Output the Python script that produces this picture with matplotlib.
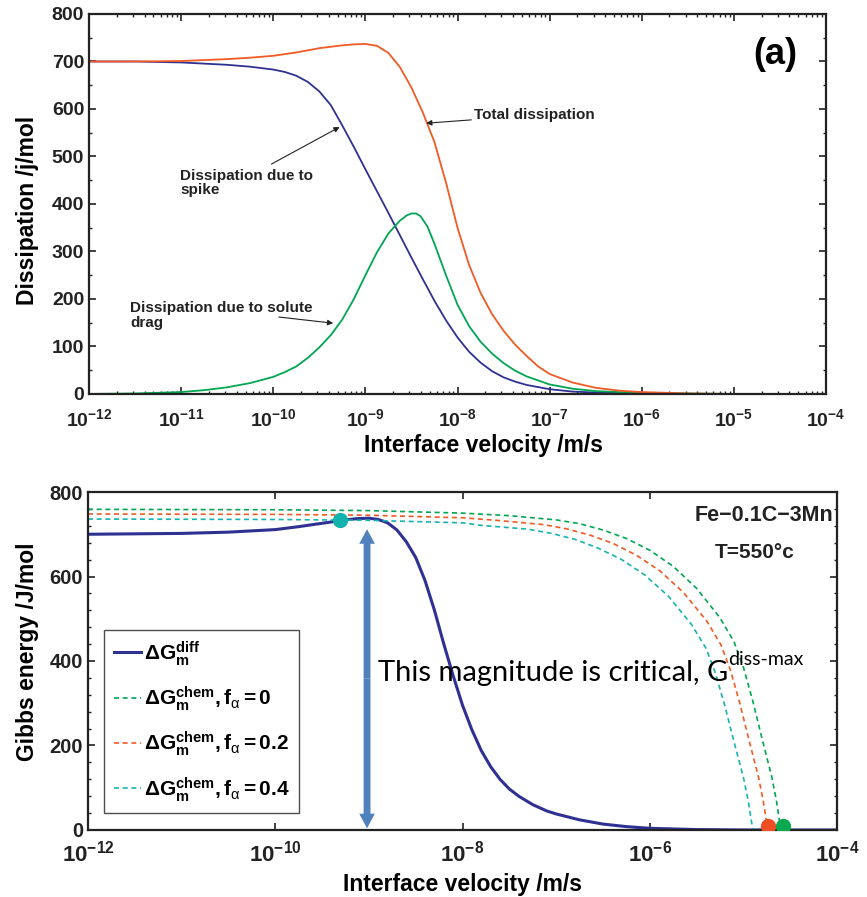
import matplotlib
matplotlib.use('Agg')
import matplotlib.pyplot as plt
from matplotlib.ticker import MultipleLocator, FixedLocator, NullLocator, LogLocator
import numpy as np

plt.rcParams['font.family'] = ['Liberation Sans', 'DejaVu Sans']
plt.rcParams['mathtext.fontset'] = 'custom'
plt.rcParams['mathtext.rm'] = 'Liberation Sans:bold'
plt.rcParams['mathtext.bf'] = 'Liberation Sans:bold'
plt.rcParams['mathtext.it'] = 'Liberation Sans'

# ---- panel (a): dissipation vs interface velocity (log10 of v) ----
exp_spike = [-12, -11.5, -11, -10.5, -10.25, -10, -9.875, -9.75, -9.625, -9.5, -9.375,
             -9.25, -9.125, -9, -8.875, -8.75, -8.625, -8.5, -8.375, -8.25, -8.125,
             -8, -7.875, -7.75, -7.625, -7.5, -7.375, -7.25, -7, -6.75, -6.5, -6,
             -5.5, -4]
diss_spike = [700, 700, 698, 693, 689, 683, 678, 670, 657, 637, 608,
              565, 520, 473, 427, 381, 334, 287, 241, 196, 155,
              119, 89, 66, 48, 35, 26, 19, 10, 5, 3, 1,
              0, 0]

exp_solute = [-12, -11.5, -11, -10.75, -10.5, -10.25, -10, -9.875, -9.75, -9.625, -9.5,
              -9.375, -9.25, -9.125, -9, -8.875, -8.75, -8.625, -8.55, -8.5, -8.45,
              -8.4, -8.325, -8.25, -8.125, -8, -7.875, -7.75, -7.625, -7.5, -7.375,
              -7.25, -7, -6.75, -6.5, -6, -5.5, -5, -4]
diss_solute = [0, 1, 4, 8, 14, 23, 36, 46, 58, 76, 98,
               124, 157, 200, 250, 298, 338, 365, 376, 380, 380,
               374, 352, 316, 250, 188, 143, 110, 85, 65, 49,
               37, 20, 11, 6, 2, 1, 0, 0]

exp_total = [-12, -11.5, -11, -10.5, -10.25, -10, -9.75, -9.5, -9.25, -9.125, -9,
             -8.875, -8.75, -8.625, -8.5, -8.375, -8.25, -8.125, -8, -7.875, -7.75,
             -7.625, -7.5, -7.375, -7.25, -7.125, -7, -6.75, -6.5, -6.25, -6,
             -5.5, -5, -4]
diss_total = [700, 700, 701, 705, 708, 712, 719, 728, 734, 736, 737,
              733, 718, 688, 645, 592, 530, 445, 350, 272, 213,
              168, 133, 104, 80, 58, 42, 24, 13, 7, 4,
              1, 0, 0]

# ---- panel (b): Gibbs energy curves ----
exp_diff = [-12, -11, -10.5, -10, -9.75, -9.5, -9.25, -9.125, -9, -8.9, -8.8, -8.7,
            -8.6, -8.5, -8.4, -8.3, -8.2, -8.1, -8, -7.9, -7.8, -7.7, -7.6, -7.5,
            -7.4, -7.25, -7.1, -7, -6.75, -6.5, -6.25, -6, -5.5, -5, -4]
g_diff = [700, 702, 705, 711, 718, 726, 734, 737, 738, 735, 727, 710,
          682, 645, 590, 520, 440, 365, 295, 237, 188, 150, 120, 97,
          80, 60, 45, 38, 24, 14, 8, 4, 1, 0, 0]

exp_f0 = [-12, -10, -9, -8, -7.5, -7, -6.75, -6.5, -6.25, -6, -5.75, -5.5, -5.25,
          -5.1, -5.0, -4.9, -4.8, -4.7, -4.65, -4.6]
g_f0 = [759, 758, 756, 750, 744, 734, 725, 710, 690, 662, 624, 572, 502,
        445, 385, 305, 215, 128, 72, 0]
exp_f02 = [-12, -10, -9, -8, -7.64, -7.14, -6.89, -6.64, -6.39, -6.14, -5.89, -5.64,
           -5.39, -5.24, -5.14, -5.04, -4.94, -4.84, -4.79, -4.74]
g_f02 = [748, 747, 745, 739, 733, 723, 713, 698, 678, 650, 613, 562,
         494, 438, 379, 301, 212, 126, 71, 0]
exp_f04 = [-12, -10, -9, -8, -7.8, -7.3, -7.05, -6.8, -6.55, -6.3, -6.05, -5.8,
           -5.55, -5.4, -5.3, -5.2, -5.1, -5.0, -4.95, -4.9]
g_f04 = [736, 735, 733, 727, 721, 712, 702, 688, 667, 640, 603, 553,
         485, 430, 372, 295, 208, 124, 70, 0]

# marked points: intersection and zero-crossings
dot_exp = [-9.31, -4.74, -4.58]
dot_g = [733, 10, 10]
dot_col = ['#13b3ad', '#f04e23', '#0aa84f']

arrow_exp = -9.02
arrow_lo, arrow_hi = 4, 712

c_blue = '#2e3192'
c_green = '#00a651'
c_red = '#f15a24'
c_cyan = '#17b3b0'
c_ink = '#222222'


def style_axes(ax, xpad):
    for s in ax.spines.values():
        s.set_linewidth(1.6)
        s.set_color(c_ink)
    ax.tick_params(which='both', direction='in', top=True, right=True,
                   colors=c_ink, labelcolor=c_ink)
    ax.tick_params(which='major', length=5, width=1.2)
    ax.tick_params(which='minor', length=2.5, width=1.0)
    ax.tick_params(axis='x', which='major', pad=xpad)


fig = plt.figure(figsize=(8.67, 8.97), dpi=100)

# top panel
ax1 = fig.add_axes([0.1027, 0.5608, 0.850, 0.4236])
ax1.plot(10.0 ** np.array(exp_spike), diss_spike, color=c_blue, lw=1.3)
ax1.plot(10.0 ** np.array(exp_solute), diss_solute, color=c_green, lw=1.3)
ax1.plot(10.0 ** np.array(exp_total), diss_total, color=c_red, lw=1.3)
ax1.set_xscale('log')
ax1.set_xlim(1e-12, 1e-4)
ax1.set_ylim(0, 800)
ax1.xaxis.set_major_locator(FixedLocator([10.0 ** k for k in range(-12, -3)]))
ax1.xaxis.set_minor_locator(LogLocator(base=10, subs=np.arange(2, 10), numticks=50))
ax1.set_xticklabels([r'$10^{%d}$' % k for k in range(-12, -3)], fontsize=14)
ax1.yaxis.set_major_locator(MultipleLocator(100))
ax1.yaxis.set_minor_locator(MultipleLocator(50))
for t in ax1.get_yticklabels():
    t.set_fontsize(14)
    t.set_fontweight('bold')
style_axes(ax1, 10)
ax1.set_xlabel('Interface velocity /m/s', fontsize=16.5, fontweight='bold')
ax1.xaxis.set_label_coords(0.535, -0.105)
ax1.set_ylabel('Dissipation /j/mol', fontsize=16.5, fontweight='bold')
ax1.yaxis.set_label_coords(-0.068, 0.484)

ax1.text(10 ** -4.55, 714, '(a)', fontsize=26, fontweight='bold', ha='center', va='center')
ann_kw = dict(fontsize=11, fontweight='bold', color=c_ink,
              arrowprops=dict(arrowstyle='-|>', color=c_ink, lw=0.8,
                              mutation_scale=8, shrinkA=0, shrinkB=0))
ax1.annotate('Total dissipation', xy=(10 ** -8.34, 570), xytext=(10 ** -7.82, 587),
             va='center', ha='left', **ann_kw)
ax1.annotate('', xy=(10 ** -9.28, 562), xytext=(10 ** -10.02, 484), **ann_kw)
ax1.text(10 ** -11.01, 444, 'Dissipation due to\nspike', fontsize=11,
         fontweight='bold', va='center', ha='left', color=c_ink, linespacing=1.05)
ax1.annotate('', xy=(10 ** -9.35, 149), xytext=(10 ** -9.94, 162), **ann_kw)
ax1.text(10 ** -11.55, 165, 'Dissipation due to solute\ndrag', fontsize=11,
         fontweight='bold', va='center', ha='left', color=c_ink, linespacing=1.05)

# bottom panel
ax2 = fig.add_axes([0.1015, 0.0747, 0.864, 0.3768])
dash = (0, (3, 2.2))
ax2.plot(10.0 ** np.array(exp_diff), g_diff, color=c_blue, lw=2.2,
         label=r'$\mathbf{\Delta G}_\mathbf{m}^\mathbf{diff}$')
ax2.plot(10.0 ** np.array(exp_f0), g_f0, color=c_green, lw=1.2, ls=dash,
         label=r'$\mathbf{\Delta G}_\mathbf{m}^\mathbf{chem}\mathbf{,f}_\alpha\mathbf{=0}$')
ax2.plot(10.0 ** np.array(exp_f02), g_f02, color=c_red, lw=1.2, ls=dash,
         label=r'$\mathbf{\Delta G}_\mathbf{m}^\mathbf{chem}\mathbf{,f}_\alpha\mathbf{=0.2}$')
ax2.plot(10.0 ** np.array(exp_f04), g_f04, color=c_cyan, lw=1.2, ls=dash,
         label=r'$\mathbf{\Delta G}_\mathbf{m}^\mathbf{chem}\mathbf{,f}_\alpha\mathbf{=0.4}$')
for e, g, c in zip(dot_exp, dot_g, dot_col):
    ax2.plot(10.0 ** e, g, 'o', color=c, ms=10, zorder=5)

ax2.set_xscale('log')
ax2.set_xlim(1e-12, 1e-4)
ax2.set_ylim(0, 800)
ax2.xaxis.set_major_locator(FixedLocator([10.0 ** k for k in range(-12, -3, 2)]))
ax2.xaxis.set_minor_locator(NullLocator())
ax2.set_xticklabels([r'$10^{%d}$' % k for k in range(-12, -3, 2)], fontsize=16)
ax2.yaxis.set_major_locator(MultipleLocator(200))
ax2.yaxis.set_minor_locator(MultipleLocator(40))
for t in ax2.get_yticklabels():
    t.set_fontsize(14.5)
    t.set_fontweight('bold')
style_axes(ax2, 7.5)
ax2.set_xlabel('Interface velocity /m/s', fontsize=16.5, fontweight='bold')
ax2.xaxis.set_label_coords(0.5, -0.128)
ax2.set_ylabel('Gibbs energy /J/mol', fontsize=16.5, fontweight='bold')
ax2.yaxis.set_label_coords(-0.065, 0.527)

# double-headed arrow showing the critical magnitude
arr_style = 'simple,head_length=0.7,head_width=0.75,tail_width=0.33'
arrow_mid = 0.5 * (arrow_lo + arrow_hi)
for end in (arrow_hi, arrow_lo):
    ax2.annotate('', xy=(10 ** arrow_exp, end), xytext=(10 ** arrow_exp, arrow_mid),
                 arrowprops=dict(arrowstyle=arr_style, color='#4f81bd', lw=0,
                                 mutation_scale=15, shrinkA=0, shrinkB=0))

txt = ax2.text(10 ** -8.90, 372, 'This magnitude is critical, G', family='Lato',
               fontsize=21, ha='left', va='center', color='black')
ax2.annotate('diss-max', xy=(1.0, 0.7), xycoords=txt, family='Lato', fontsize=14,
             ha='left', va='bottom', color='black')

ax2.text(0.995, 0.93, 'Fe\u22120.1C\u22123Mn', transform=ax2.transAxes, fontsize=15.5,
         fontweight='bold', ha='right', va='center', color=c_ink)
ax2.text(0.89, 0.82, 'T=550\u00b0c', transform=ax2.transAxes, fontsize=15,
         fontweight='bold', ha='center', va='center', color=c_ink)

leg = ax2.legend(loc='lower left', bbox_to_anchor=(0.022, 0.05), fontsize=15,
                 frameon=True, fancybox=False, edgecolor=c_ink, handlelength=1.3,
                 handletextpad=0.15, labelspacing=0.8, borderpad=0.45,
                 borderaxespad=0)
leg.get_frame().set_linewidth(1.0)

fig.savefig('out.png', dpi=100)
